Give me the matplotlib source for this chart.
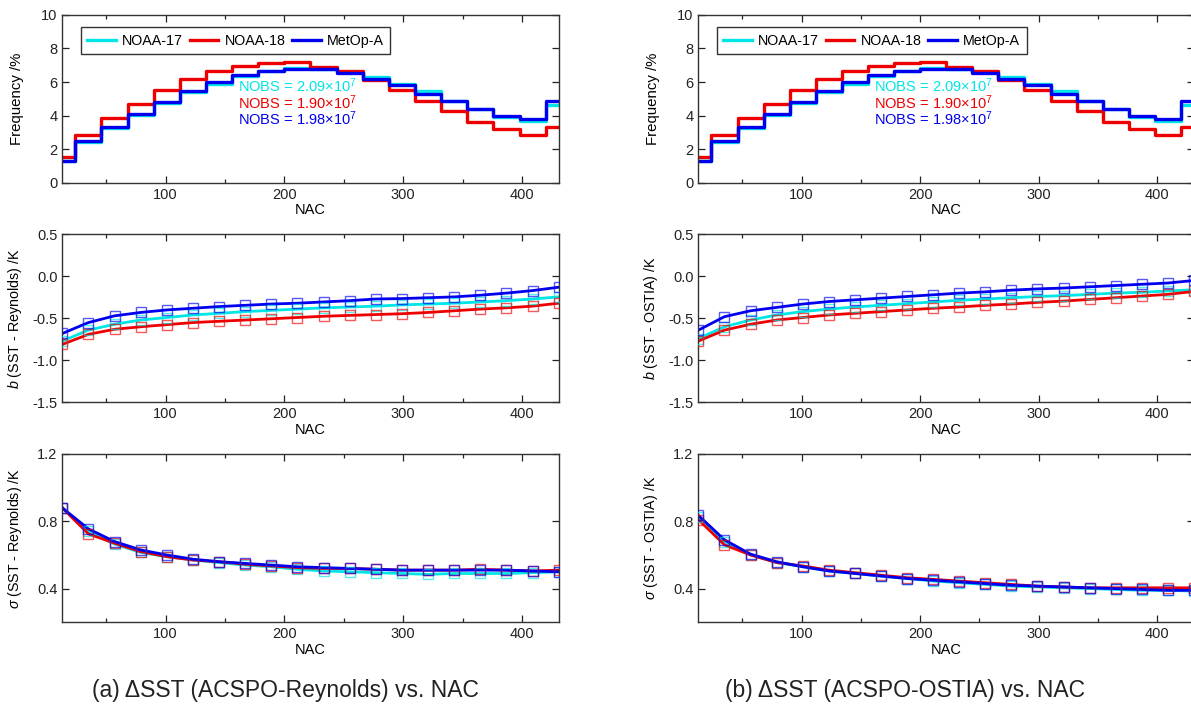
import matplotlib
matplotlib.use("Agg")
import matplotlib.pyplot as plt
from matplotlib.ticker import FormatStrFormatter, MultipleLocator

plt.rcParams["font.family"] = ["Liberation Sans", "DejaVu Sans"]
plt.rcParams["mathtext.fontset"] = "custom"
plt.rcParams["mathtext.rm"] = "Liberation Sans"
plt.rcParams["mathtext.it"] = "Liberation Sans:italic"

# NAC bin centres (markers every 22 NAC)
nac = [13, 35, 57, 79, 101, 123, 145, 167, 189, 211,
       233, 255, 277, 299, 321, 343, 365, 387, 409, 431]

sats = ["NOAA-17", "NOAA-18", "MetOp-A"]
colors = ["#00e5e5", "#ee0000", "#0000ee"]
nobs = ["2.09", "1.90", "1.98"]

# frequency /% (same in both columns)
freq_n17 = [1.30, 2.45, 3.25, 4.05, 4.75, 5.40, 5.90, 6.35, 6.65, 6.85,
            6.80, 6.60, 6.30, 5.90, 5.45, 4.90, 4.40, 3.95, 3.70, 4.65]
freq_n18 = [1.55, 2.88, 3.87, 4.72, 5.52, 6.15, 6.63, 6.98, 7.12, 7.18,
            6.92, 6.65, 6.10, 5.50, 4.86, 4.25, 3.65, 3.21, 2.84, 3.31]
freq_metop = [1.31, 2.48, 3.31, 4.10, 4.82, 5.46, 6.01, 6.41, 6.67, 6.80,
              6.80, 6.55, 6.20, 5.80, 5.30, 4.88, 4.40, 3.97, 3.79, 4.86]

# bias vs Reynolds /K
bias_rey_n17 = [-0.77, -0.64, -0.57, -0.52, -0.49, -0.46, -0.44, -0.42, -0.405, -0.39,
                -0.375, -0.365, -0.355, -0.34, -0.33, -0.32, -0.305, -0.29, -0.27, -0.245]
bias_rey_n18 = [-0.81, -0.69, -0.63, -0.60, -0.575, -0.55, -0.535, -0.52, -0.505, -0.49,
                -0.475, -0.465, -0.455, -0.445, -0.43, -0.41, -0.39, -0.375, -0.355, -0.32]
bias_rey_metop = [-0.68, -0.55, -0.47, -0.43, -0.40, -0.38, -0.36, -0.345, -0.33, -0.32,
                  -0.305, -0.29, -0.27, -0.265, -0.255, -0.245, -0.225, -0.20, -0.17, -0.13]

# bias vs OSTIA /K
bias_ost_n17 = [-0.74, -0.60, -0.52, -0.46, -0.42, -0.39, -0.365, -0.345, -0.325, -0.305,
                -0.285, -0.27, -0.255, -0.24, -0.23, -0.215, -0.20, -0.19, -0.175, -0.16]
bias_ost_n18 = [-0.77, -0.64, -0.57, -0.52, -0.49, -0.46, -0.44, -0.42, -0.40, -0.38,
                -0.365, -0.345, -0.33, -0.31, -0.295, -0.275, -0.255, -0.235, -0.215, -0.18]
bias_ost_metop = [-0.64, -0.48, -0.41, -0.37, -0.33, -0.30, -0.28, -0.26, -0.24, -0.22,
                  -0.20, -0.185, -0.165, -0.15, -0.14, -0.125, -0.11, -0.095, -0.08, -0.05]

# std dev vs Reynolds /K
std_rey_n17 = [0.88, 0.74, 0.665, 0.615, 0.59, 0.57, 0.555, 0.54, 0.53, 0.515,
               0.505, 0.50, 0.495, 0.49, 0.485, 0.49, 0.49, 0.49, 0.495, 0.50]
std_rey_n18 = [0.88, 0.725, 0.67, 0.62, 0.59, 0.57, 0.56, 0.545, 0.535, 0.525,
               0.52, 0.52, 0.515, 0.51, 0.51, 0.51, 0.515, 0.51, 0.505, 0.51]
std_rey_metop = [0.88, 0.755, 0.68, 0.63, 0.60, 0.575, 0.56, 0.55, 0.54, 0.53,
                 0.525, 0.52, 0.515, 0.51, 0.51, 0.51, 0.51, 0.51, 0.505, 0.50]

# std dev vs OSTIA /K
std_ost_n17 = [0.825, 0.68, 0.60, 0.555, 0.53, 0.505, 0.49, 0.475, 0.46, 0.445,
               0.435, 0.425, 0.415, 0.41, 0.405, 0.40, 0.395, 0.39, 0.39, 0.385]
std_ost_n18 = [0.81, 0.66, 0.60, 0.555, 0.535, 0.51, 0.495, 0.48, 0.465, 0.455,
               0.445, 0.435, 0.425, 0.415, 0.41, 0.405, 0.405, 0.405, 0.405, 0.405]
std_ost_metop = [0.835, 0.69, 0.605, 0.56, 0.53, 0.505, 0.49, 0.475, 0.46, 0.45,
                 0.44, 0.43, 0.42, 0.415, 0.41, 0.405, 0.40, 0.395, 0.39, 0.39]

columns = [
    {
        "ref": "Reynolds",
        "freq": [freq_n17, freq_n18, freq_metop],
        "bias": [bias_rey_n17, bias_rey_n18, bias_rey_metop],
        "std": [std_rey_n17, std_rey_n18, std_rey_metop],
        "caption": "(a) \u0394SST (ACSPO-Reynolds) vs. NAC",
    },
    {
        "ref": "OSTIA",
        "freq": [freq_n17, freq_n18, freq_metop],
        "bias": [bias_ost_n17, bias_ost_n18, bias_ost_metop],
        "std": [std_ost_n17, std_ost_n18, std_ost_metop],
        "caption": "(b) \u0394SST (ACSPO-OSTIA) vs. NAC",
    },
]

W, H = 1191, 707
fig = plt.figure(figsize=(W / 100, H / 100), dpi=100)

col_x = [62.3, 698.4]
col_w = [496.4, 495.6]
row_bottom = [183.0, 402.5, 622.3]
row_h = 168.3


def style(ax):
    ax.set_xlim(13, 431)
    ax.xaxis.set_major_locator(MultipleLocator(100))
    ax.xaxis.set_minor_locator(MultipleLocator(50))
    ax.tick_params(which="both", direction="in", top=True, right=True,
                   labelsize=10.5, colors="#222222", width=0.9)
    ax.tick_params(which="major", length=5)
    ax.tick_params(which="minor", length=3)
    ax.tick_params(axis="y", which="minor", left=False, right=False)
    for sp in ax.spines.values():
        sp.set_color("#333333")
        sp.set_linewidth(1.0)
    ax.set_xlabel("NAC", fontsize=10.5, labelpad=1)
    ax.yaxis.set_label_coords(-0.078, 0.5)


for ci, col in enumerate(columns):
    axes = []
    for ri in range(3):
        left = col_x[ci] / W
        bottom = 1 - row_bottom[ri] / H
        axes.append(fig.add_axes([left, bottom, col_w[ci] / W, row_h / H]))
    ax_f, ax_b, ax_s = axes

    # frequency histogram
    for name, c, vals in zip(sats, colors, col["freq"]):
        ax_f.step(nac, vals, where="mid", color=c, lw=2.4, label=name)
    style(ax_f)
    ax_f.set_ylim(0, 10)
    ax_f.yaxis.set_major_locator(MultipleLocator(2))
    ax_f.set_ylabel("Frequency /%", fontsize=10.8)
    leg = ax_f.legend(loc="upper left", bbox_to_anchor=(0.037, 0.925), ncol=3,
                      fancybox=False, edgecolor="black", fontsize=10.3,
                      handlelength=2.0, columnspacing=0.45, handletextpad=0.45,
                      borderaxespad=0, borderpad=0.45)
    leg.get_frame().set_linewidth(1.0)
    for i, (c, n) in enumerate(zip(colors, nobs)):
        ax_f.text(0.354, 0.58 - i * 0.1, "NOBS = %s\u00d710$^7$" % n, color=c,
                  fontsize=10.5, transform=ax_f.transAxes, va="center")

    # bias
    for c, vals in zip(colors, col["bias"]):
        ax_b.plot(nac, vals, color=c, lw=2.0, zorder=2)
        ax_b.plot(nac, vals, ls="none", marker="s", ms=6.5, mfc="none",
                  mec=c, mew=1.0, alpha=0.65, zorder=3)
    style(ax_b)
    ax_b.set_ylim(-1.5, 0.5)
    ax_b.yaxis.set_major_locator(MultipleLocator(0.5))
    ax_b.yaxis.set_major_formatter(FormatStrFormatter("%.1f"))
    ax_b.set_ylabel("$b$ (SST - %s) /K" % col["ref"], fontsize=10.3)

    # standard deviation
    for c, vals in zip(colors, col["std"]):
        ax_s.plot(nac, vals, color=c, lw=2.0, zorder=2)
        ax_s.plot(nac, vals, ls="none", marker="s", ms=6.5, mfc="none",
                  mec=c, mew=1.0, alpha=0.65, zorder=3)
    style(ax_s)
    ax_s.set_ylim(0.2, 1.2)
    ax_s.yaxis.set_major_locator(MultipleLocator(0.4))
    ax_s.yaxis.set_major_formatter(FormatStrFormatter("%.1f"))
    ax_s.set_ylabel("$\\sigma$ (SST - %s) /K" % col["ref"], fontsize=10.3)

    fig.text([285 / W, 905 / W][ci], 1 - 690 / H, col["caption"],
             ha="center", va="center", fontsize=16.5, color="#222222")

fig.savefig("out.png", dpi=100)
